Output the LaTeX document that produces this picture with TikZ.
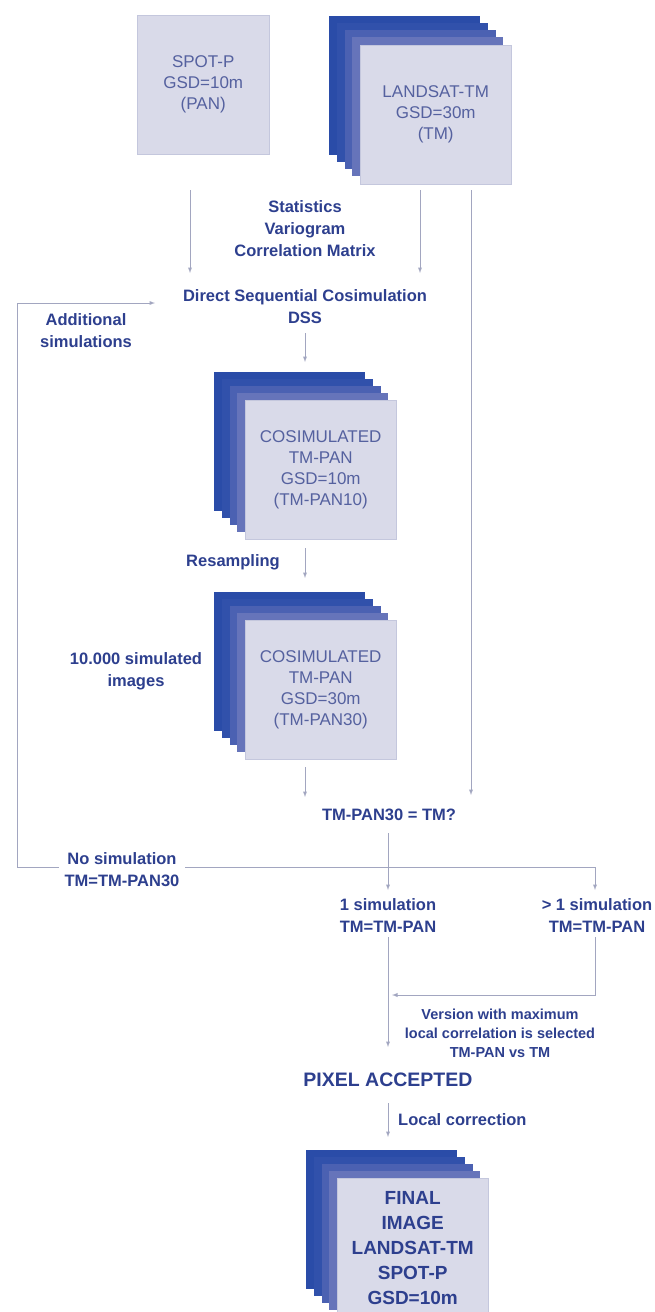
\documentclass[tikz,border=0pt]{standalone}
\usepackage{fontspec}
\setmainfont{Liberation Sans}
\usetikzlibrary{calc}
\usetikzlibrary{shapes,arrows}

\definecolor{lbltext}{HTML}{2D3F8E}
\definecolor{boxtext}{HTML}{55619F}
\definecolor{boxfill}{HTML}{D9DAE9}
\definecolor{boxedge}{HTML}{C4C7DD}
\definecolor{wirecol}{HTML}{A2A6C0}
\definecolor{layA}{HTML}{2A4CA8}
\definecolor{layB}{HTML}{3151AB}
\definecolor{layC}{HTML}{4B61B2}
\definecolor{layD}{HTML}{6674BA}

\tikzset{
  imgbox/.style={draw=boxedge, fill=boxfill, anchor=north west, inner sep=0pt,
    minimum width=151pt, minimum height=139pt, align=center, text=boxtext,
    font=\fontsize{17}{21}\selectfont},
  finalbox/.style={text=lbltext, font=\bfseries\fontsize{19}{25}\selectfont},
  lbl/.style={text=lbltext, align=center, inner sep=1pt,
    font=\bfseries\fontsize{16.5}{22}\selectfont},
  wire/.style={draw=wirecol, line width=0.9pt},
  arr/.style={wire, -latex}
}

\begin{document}
\begin{tikzpicture}[x=1pt,y=-1pt]
    \useasboundingbox (0,0) rectangle (655,1312);
    \clip (0,0) rectangle (655,1312);

    % layers behind the stacked images
    \foreach \sx/\sy in {329/16, 214/372, 214/592, 306/1150} {
      \foreach \i/\c in {0/layA, 1/layB, 2/layC, 3/layD}
        \fill[\c] (\sx+7.75*\i, \sy+7*\i) rectangle ++(151,139);
    }

    \node [imgbox, minimum width=132pt] (spot) at (137,15) {SPOT-P\\GSD=10m\\(PAN)};
    \node [imgbox] (landsat) at (360,45) {LANDSAT-TM\\GSD=30m\\(TM)};
    \node [imgbox] (cos10) at (245,400) {COSIMULATED\\TM-PAN\\GSD=10m\\(TM-PAN10)};
    \node [imgbox] (cos30) at (245,620) {COSIMULATED\\TM-PAN\\GSD=30m\\(TM-PAN30)};
    \node [imgbox, finalbox] (final) at (337,1178) {FINAL\\IMAGE\\LANDSAT-TM\\SPOT-P\\GSD=10m};

    \coordinate (S0) at (190,190);
    \coordinate (S1) at (190,273);
    \coordinate (L0) at (420,190);
    \coordinate (L1) at (420,273);
    \coordinate (T0) at (471,190);
    \coordinate (T1) at (471,795);
    \coordinate (C0) at (305,333);
    \coordinate (C1) at (305,362);
    \coordinate (C2) at (305,548);
    \coordinate (C3) at (305,578);
    \coordinate (C4) at (305,767);
    \coordinate (C5) at (305,797);
    \coordinate (Q0) at (388,833);
    \coordinate (Q1) at (388,867);
    \coordinate (B0) at (17,867);
    \coordinate (B1) at (17,303);
    \coordinate (B2) at (155,303);
    \coordinate (R0) at (388,890);
    \coordinate (R1) at (595,867);
    \coordinate (R2) at (595,890);
    \coordinate (D0) at (388,937);
    \coordinate (D1) at (388,1047);
    \coordinate (E0) at (595,937);
    \coordinate (E1) at (595,995);
    \coordinate (E2) at (392,995);
    \coordinate (F0) at (388,1103);
    \coordinate (F1) at (388,1137);

    \draw [arr] (S0) -- (S1);
    \draw [arr] (L0) -- (L1);
    \draw [arr] (T0) -- (T1);
    \draw [arr] (C0) -- (C1);
    \draw [arr] (C2) -- (C3);
    \draw [arr] (C4) -- (C5);
    \draw [wire] (Q0) -- (Q1);
    \draw [arr] (B0) -- (B1) -- (B2);
    \draw [wire] (B0) -- (R1);
    \draw [arr] (Q1) -- (R0);
    \draw [arr] (R1) -- (R2);
    \draw [arr] (D0) -- (D1);
    \draw [arr] (E0) -- (E1) -- (E2);
    \draw [arr] (F0) -- (F1);

    \node [lbl] (stats) at (305,229) {Statistics\\Variogram\\Correlation Matrix};
    \node [lbl] (dss) at (305,307) {Direct Sequential Cosimulation\\DSS};
    \node [lbl] (addsim) at (86,331) {Additional\\simulations};
    \node [lbl] (resamp) at (233,562) {Resampling};
    \node [lbl] (nsim) at (136,671) {10.000 simulated\\images};
    \node [lbl] (test) at (389,815) {TM-PAN30 = TM?};
    \node [lbl, fill=white, inner xsep=6pt] (nosim) at (122,870) {No simulation\\TM=TM-PAN30};
    \node [lbl] (one) at (388,916) {1 simulation\\TM=TM-PAN};
    \node [lbl] (more) at (597,916) {> 1 simulation\\TM=TM-PAN};
    \node [lbl, font=\bfseries\fontsize{14.5}{19}\selectfont] (version) at (500,1033) {Version with maximum\\local correlation is selected\\TM-PAN vs TM};
    \node [lbl, font=\bfseries\fontsize{19.5}{22}\selectfont] (pixel) at (388,1080) {PIXEL ACCEPTED};
    \node [lbl, anchor=west] (localcor) at (397,1120) {Local correction};
\end{tikzpicture}
\end{document}
